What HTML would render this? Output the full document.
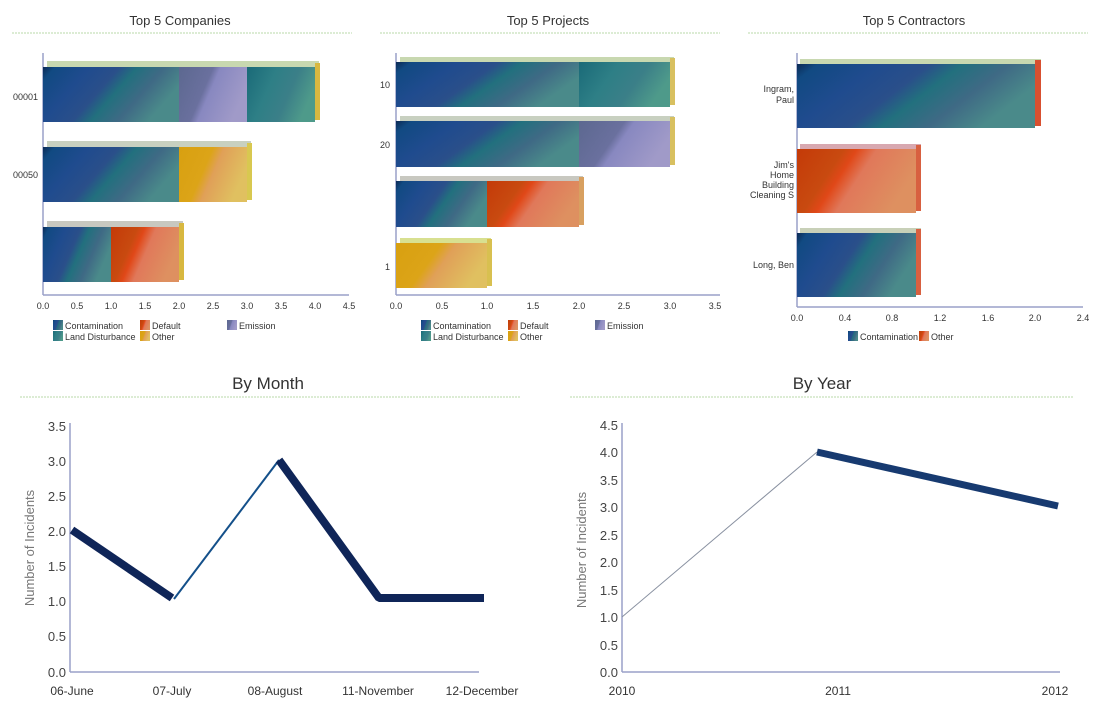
<!DOCTYPE html>
<html><head><meta charset="utf-8"><style>
body{margin:0;background:#fff;}
svg text{font-family:"Liberation Sans",sans-serif;}
</style></head><body>
<svg width="1095" height="713" viewBox="0 0 1095 713" xmlns="http://www.w3.org/2000/svg">
<defs>
<linearGradient id="gb" x1="0" y1="0" x2="1" y2="0.35">
<stop offset="0" stop-color="#0b2a55"/><stop offset="0.08" stop-color="#114a82"/><stop offset="0.3" stop-color="#1f4b8e"/><stop offset="0.5" stop-color="#2a4f8a"/><stop offset="0.62" stop-color="#22707e"/><stop offset="0.8" stop-color="#3f6a85"/><stop offset="1" stop-color="#4a8a8a"/>
</linearGradient>
<linearGradient id="gp" x1="0" y1="0" x2="1" y2="0.35">
<stop offset="0" stop-color="#5c6890"/><stop offset="0.45" stop-color="#6a709e"/><stop offset="0.55" stop-color="#8888c0"/><stop offset="1" stop-color="#a09ac8"/>
</linearGradient>
<linearGradient id="gt" x1="0" y1="0" x2="1" y2="0.35">
<stop offset="0" stop-color="#1a6a78"/><stop offset="0.4" stop-color="#2e7f86"/><stop offset="0.7" stop-color="#3b7f88"/><stop offset="1" stop-color="#4e9a8a"/>
</linearGradient>
<linearGradient id="gr" x1="0" y1="0" x2="1" y2="0.35">
<stop offset="0" stop-color="#c43a08"/><stop offset="0.35" stop-color="#c84a10"/><stop offset="0.45" stop-color="#e04818"/><stop offset="0.6" stop-color="#e0785a"/><stop offset="1" stop-color="#de9060"/>
</linearGradient>
<linearGradient id="gy" x1="0" y1="0" x2="1" y2="0.35">
<stop offset="0" stop-color="#d8a010"/><stop offset="0.45" stop-color="#dca418"/><stop offset="0.6" stop-color="#e0a058"/><stop offset="1" stop-color="#e0c060"/>
</linearGradient>
</defs>

<g font-size="13" fill="#333" text-anchor="middle">
<text x="180" y="25">Top 5 Companies</text>
<text x="548" y="25">Top 5 Projects</text>
<text x="914" y="25">Top 5 Contractors</text>
</g>
<g stroke="#b8d8a8" stroke-dasharray="2,1">
<line x1="12" y1="33" x2="352" y2="33"/><line x1="380" y1="33" x2="720" y2="33"/><line x1="748" y1="33" x2="1088" y2="33"/>
<line x1="20" y1="397" x2="520" y2="397"/><line x1="570" y1="397" x2="1073" y2="397"/>
</g>

<!-- Companies -->
<g>
<line x1="43" y1="53" x2="43" y2="295" stroke="#9aa0c8" stroke-width="1.5"/>
<line x1="43" y1="295" x2="349" y2="295" stroke="#9aa0c8" stroke-width="1.5"/>
<rect x="47" y="61" width="272" height="6" fill="#c8d8b0"/>
<rect x="43" y="67" width="136" height="55" fill="url(#gb)"/>
<rect x="179" y="67" width="68" height="55" fill="url(#gp)"/>
<rect x="247" y="67" width="68" height="55" fill="url(#gt)"/>
<rect x="315" y="63" width="5" height="57" fill="#d8b840"/>
<rect x="47" y="141" width="204" height="6" fill="#c8d0c0"/>
<rect x="43" y="147" width="136" height="55" fill="url(#gb)"/>
<rect x="179" y="147" width="68" height="55" fill="url(#gy)"/>
<rect x="247" y="143" width="5" height="57" fill="#d8c850"/>
<rect x="47" y="221" width="136" height="6" fill="#c8c8c0"/>
<rect x="43" y="227" width="68" height="55" fill="url(#gb)"/>
<rect x="111" y="227" width="68" height="55" fill="url(#gr)"/>
<rect x="179" y="223" width="5" height="57" fill="#d8b840"/>
<g font-size="9" fill="#333" text-anchor="end"><text x="38" y="100">00001</text><text x="38" y="178">00050</text></g>
<g font-size="9" fill="#333" text-anchor="middle">
<text x="43" y="309">0.0</text><text x="77" y="309">0.5</text><text x="111" y="309">1.0</text><text x="145" y="309">1.5</text><text x="179" y="309">2.0</text><text x="213" y="309">2.5</text><text x="247" y="309">3.0</text><text x="281" y="309">3.5</text><text x="315" y="309">4.0</text><text x="349" y="309">4.5</text>
</g>
<g font-size="9" fill="#333">
<rect x="53" y="320" width="10" height="10" fill="url(#gb)"/><text x="65" y="329">Contamination</text>
<rect x="53" y="331" width="10" height="10" fill="url(#gt)"/><text x="65" y="340">Land Disturbance</text>
<rect x="140" y="320" width="10" height="10" fill="url(#gr)"/><text x="152" y="329">Default</text>
<rect x="140" y="331" width="10" height="10" fill="url(#gy)"/><text x="152" y="340">Other</text>
<rect x="227" y="320" width="10" height="10" fill="url(#gp)"/><text x="239" y="329">Emission</text>
</g>
</g>

<!-- Projects -->
<g>
<line x1="396" y1="53" x2="396" y2="295" stroke="#9aa0c8" stroke-width="1.5"/>
<line x1="396" y1="295" x2="720" y2="295" stroke="#9aa0c8" stroke-width="1.5"/>
<rect x="400" y="57" width="274" height="5" fill="#c8d8b0"/>
<rect x="396" y="62" width="183" height="45" fill="url(#gb)"/>
<rect x="579" y="62" width="91" height="45" fill="url(#gt)"/>
<rect x="670" y="58" width="5" height="47" fill="#d8c060"/>
<rect x="400" y="116" width="274" height="5" fill="#c8d0c0"/>
<rect x="396" y="121" width="183" height="46" fill="url(#gb)"/>
<rect x="579" y="121" width="91" height="46" fill="url(#gp)"/>
<rect x="670" y="117" width="5" height="48" fill="#d8c060"/>
<rect x="400" y="176" width="183" height="5" fill="#c8c8c0"/>
<rect x="396" y="181" width="91" height="46" fill="url(#gb)"/>
<rect x="487" y="181" width="92" height="46" fill="url(#gr)"/>
<rect x="579" y="177" width="5" height="48" fill="#d8a060"/>
<rect x="400" y="238" width="91" height="5" fill="#d8e090"/>
<rect x="396" y="243" width="91" height="45" fill="url(#gy)"/>
<rect x="487" y="239" width="5" height="47" fill="#d8c050"/>
<g font-size="9" fill="#333" text-anchor="end"><text x="390" y="88">10</text><text x="390" y="148">20</text><text x="390" y="270">1</text></g>
<g font-size="9" fill="#333" text-anchor="middle">
<text x="396" y="309">0.0</text><text x="442" y="309">0.5</text><text x="487" y="309">1.0</text><text x="533" y="309">1.5</text><text x="579" y="309">2.0</text><text x="624" y="309">2.5</text><text x="670" y="309">3.0</text><text x="715" y="309">3.5</text>
</g>
<g font-size="9" fill="#333">
<rect x="421" y="320" width="10" height="10" fill="url(#gb)"/><text x="433" y="329">Contamination</text>
<rect x="421" y="331" width="10" height="10" fill="url(#gt)"/><text x="433" y="340">Land Disturbance</text>
<rect x="508" y="320" width="10" height="10" fill="url(#gr)"/><text x="520" y="329">Default</text>
<rect x="508" y="331" width="10" height="10" fill="url(#gy)"/><text x="520" y="340">Other</text>
<rect x="595" y="320" width="10" height="10" fill="url(#gp)"/><text x="607" y="329">Emission</text>
</g>
</g>

<!-- Contractors -->
<g>
<line x1="797" y1="53" x2="797" y2="307" stroke="#9aa0c8" stroke-width="1.5"/>
<line x1="797" y1="307" x2="1083" y2="307" stroke="#9aa0c8" stroke-width="1.5"/>
<rect x="800" y="59" width="241" height="5" fill="#c8d8b0"/>
<rect x="797" y="64" width="238" height="64" fill="url(#gb)"/>
<rect x="1035" y="60" width="6" height="66" fill="#d85030"/>
<rect x="800" y="144" width="121" height="5" fill="#d8a8b0"/>
<rect x="797" y="149" width="119" height="64" fill="url(#gr)"/>
<rect x="916" y="145" width="5" height="66" fill="#d86040"/>
<rect x="800" y="228" width="121" height="5" fill="#c8d0b8"/>
<rect x="797" y="233" width="119" height="64" fill="url(#gb)"/>
<rect x="916" y="229" width="5" height="66" fill="#d86040"/>
<g font-size="9" fill="#333" text-anchor="end">
<text x="794" y="92">Ingram,</text><text x="794" y="103">Paul</text>
<text x="794" y="168">Jim's</text><text x="794" y="178">Home</text><text x="794" y="188">Building</text><text x="794" y="198">Cleaning S</text>
<text x="794" y="268">Long, Ben</text>
</g>
<g font-size="9" fill="#333" text-anchor="middle">
<text x="797" y="321">0.0</text><text x="845" y="321">0.4</text><text x="892" y="321">0.8</text><text x="940" y="321">1.2</text><text x="988" y="321">1.6</text><text x="1035" y="321">2.0</text><text x="1083" y="321">2.4</text>
</g>
<g font-size="9" fill="#333">
<rect x="848" y="331" width="10" height="10" fill="url(#gb)"/><text x="860" y="340">Contamination</text>
<rect x="919" y="331" width="10" height="10" fill="url(#gr)"/><text x="931" y="340">Other</text>
</g>
</g>

<!-- By Month -->
<text x="268" y="389" font-size="17" fill="#333" text-anchor="middle">By Month</text>
<g>
<line x1="70" y1="423" x2="70" y2="672" stroke="#9aa0c8" stroke-width="1.5"/>
<line x1="70" y1="672" x2="479" y2="672" stroke="#9aa0c8" stroke-width="1.5"/>
<g font-size="13" fill="#444" text-anchor="end">
<text x="66" y="431">3.5</text><text x="66" y="466">3.0</text><text x="66" y="501">2.5</text><text x="66" y="536">2.0</text><text x="66" y="571">1.5</text><text x="66" y="606">1.0</text><text x="66" y="641">0.5</text><text x="66" y="677">0.0</text>
</g>
<text transform="translate(34,548) rotate(-90)" font-size="13" fill="#777" text-anchor="middle">Number of Incidents</text>
<g font-size="12" fill="#333" text-anchor="middle">
<text x="72" y="695">06-June</text><text x="172" y="695">07-July</text><text x="275" y="695">08-August</text><text x="378" y="695">11-November</text><text x="482" y="695">12-December</text>
</g>
<polyline points="72,530 172,598" fill="none" stroke="#0f2558" stroke-width="8"/>
<line x1="174" y1="599" x2="279" y2="460" stroke="#14508a" stroke-width="2"/>
<polyline points="279,460 379,598 484,598" fill="none" stroke="#0f2558" stroke-width="8" stroke-linejoin="bevel"/>
</g>

<!-- By Year -->
<text x="822" y="389" font-size="17" fill="#333" text-anchor="middle">By Year</text>
<g>
<line x1="622" y1="423" x2="622" y2="672" stroke="#9aa0c8" stroke-width="1.5"/>
<line x1="622" y1="672" x2="1060" y2="672" stroke="#9aa0c8" stroke-width="1.5"/>
<g font-size="13" fill="#444" text-anchor="end">
<text x="618" y="430">4.5</text><text x="618" y="457">4.0</text><text x="618" y="485">3.5</text><text x="618" y="512">3.0</text><text x="618" y="540">2.5</text><text x="618" y="567">2.0</text><text x="618" y="595">1.5</text><text x="618" y="622">1.0</text><text x="618" y="650">0.5</text><text x="618" y="677">0.0</text>
</g>
<text transform="translate(586,550) rotate(-90)" font-size="13" fill="#777" text-anchor="middle">Number of Incidents</text>
<g font-size="12" fill="#333" text-anchor="middle">
<text x="622" y="695">2010</text><text x="838" y="695">2011</text><text x="1055" y="695">2012</text>
</g>
<line x1="622" y1="617" x2="817" y2="452" stroke="#8890a0" stroke-width="1"/>
<line x1="817" y1="452" x2="1058" y2="506" stroke="#173a70" stroke-width="7"/>
</g>
</svg>
</body></html>
